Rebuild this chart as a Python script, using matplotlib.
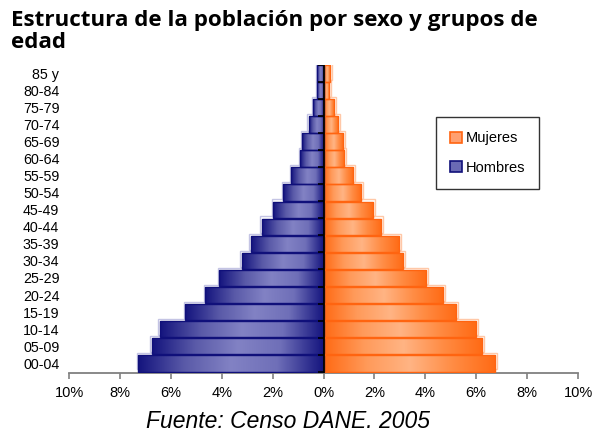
import numpy as np
import matplotlib
matplotlib.use('Agg')
import matplotlib.pyplot as plt
from matplotlib.colors import LinearSegmentedColormap
from matplotlib.patches import Rectangle
from matplotlib.transforms import ScaledTranslation

plt.rcParams['font.family'] = ['Liberation Sans', 'DejaVu Sans']

grupos = ['00-04', '05-09', '10-14', '15-19', '20-24', '25-29', '30-34', '35-39',
          '40-44', '45-49', '50-54', '55-59', '60-64', '65-69', '70-74', '75-79',
          '80-84', '85 y']
hombres = [7.28, 6.75, 6.44, 5.43, 4.64, 4.11, 3.21, 2.86, 2.43, 1.97,
           1.58, 1.26, 0.92, 0.83, 0.59, 0.41, 0.26, 0.26]
mujeres = [6.73, 6.21, 5.98, 5.22, 4.70, 4.04, 3.12, 2.95, 2.27, 1.94,
           1.48, 1.16, 0.80, 0.76, 0.58, 0.42, 0.20, 0.27]
xticks = [-10, -8, -6, -4, -2, 0, 2, 4, 6, 8, 10]

cmap_h = LinearSegmentedColormap.from_list('h', ['#14147e', '#6f6fb8', '#8282c4', '#5a5aa8', '#14147e'])
cmap_m = LinearSegmentedColormap.from_list('m', ['#ff6a14', '#ff9a5a', '#ffb484', '#ff8c44', '#ff6a14'])

fig = plt.figure(figsize=(5.92, 4.33), dpi=100)
ax = fig.add_axes([0.1166, 0.1378, 0.8598, 0.7125])

y = np.arange(len(grupos))
grad = np.linspace(0, 1, 256).reshape(1, -1)


def gradient_bars(values, sign, cmap, edge, halo, dx):
    bars = ax.barh(y, [sign * v for v in values], height=0.97, color='none',
                   edgecolor=edge, linewidth=1.0, zorder=3)
    # faint offset outline for the pseudo-3D look
    off = ScaledTranslation(dx / 72, 1.5 / 72, fig.dpi_scale_trans)
    ax.barh(y, [sign * v for v in values], height=0.97, color='none',
            edgecolor=halo, linewidth=1.0, zorder=1,
            transform=ax.transData + off)
    for b in bars:
        x0, y0 = b.get_x(), b.get_y()
        w, h = b.get_width(), b.get_height()
        im = ax.imshow(grad, cmap=cmap, aspect='auto', zorder=2,
                       extent=[x0, x0 + w, y0, y0 + h], interpolation='bilinear')
        im.set_clip_path(b)
    return bars


bh = gradient_bars(hombres, -1, cmap_h, '#10107a', '#c4c4e4', -1.0)
bm = gradient_bars(mujeres, 1, cmap_m, '#ff6410', '#ffc8a8', 1.5)

ax.axvline(0, color='black', lw=1.3, zorder=5)
ax.plot(np.zeros(len(grupos) + 1), np.arange(len(grupos) + 1) - 0.5, ls='none',
        marker=0, markersize=4, markeredgewidth=1.2, color='black', zorder=5)

ax.set_xlim(-10, 10)
ax.set_ylim(-0.59, len(grupos) - 0.5)
ax.set_xticks(xticks)
ax.set_xticklabels([f'{abs(t)}%' for t in xticks], fontsize=10.5)
ax.set_yticks(y)
ax.set_yticklabels(grupos, fontsize=10.3)
ax.tick_params(axis='y', length=0, pad=7)
ax.tick_params(axis='x', direction='out', length=4, width=1.2, color='#808080', pad=5)
for s in ['left', 'right', 'top']:
    ax.spines[s].set_visible(False)
ax.spines['bottom'].set_color('#808080')
ax.spines['bottom'].set_linewidth(1.3)

handles = [Rectangle((0, 0), 1, 1, facecolor='#ffa070', edgecolor='#ff6410', lw=1.2),
           Rectangle((0, 0), 1, 1, facecolor='#6a6ab4', edgecolor='#10107a', lw=1.2)]
leg = ax.legend(handles, ['Mujeres', 'Hombres'], loc='upper left',
                bbox_to_anchor=(436 / 592, 1 - 117.5 / 433), bbox_transform=fig.transFigure,
                fontsize=10.5, frameon=True, fancybox=False, edgecolor='black',
                handlelength=0.8, handleheight=0.8, handletextpad=0.3,
                labelspacing=1.05, borderpad=0.95, borderaxespad=0)
leg.get_frame().set_linewidth(1.0)

fig.text(11 / 592, 1 - 10 / 433, 'Estructura de la población por sexo y grupos de\nedad',
         ha='left', va='top', fontsize=16.1, fontweight='bold',
         family=['Open Sans', 'DejaVu Sans'], linespacing=1.04)
fig.text(288 / 592, 1 - 421 / 433, 'Fuente: Censo DANE. 2005', ha='center', va='center',
         fontsize=16.5, style='italic')

fig.savefig('out.png', dpi=100)
